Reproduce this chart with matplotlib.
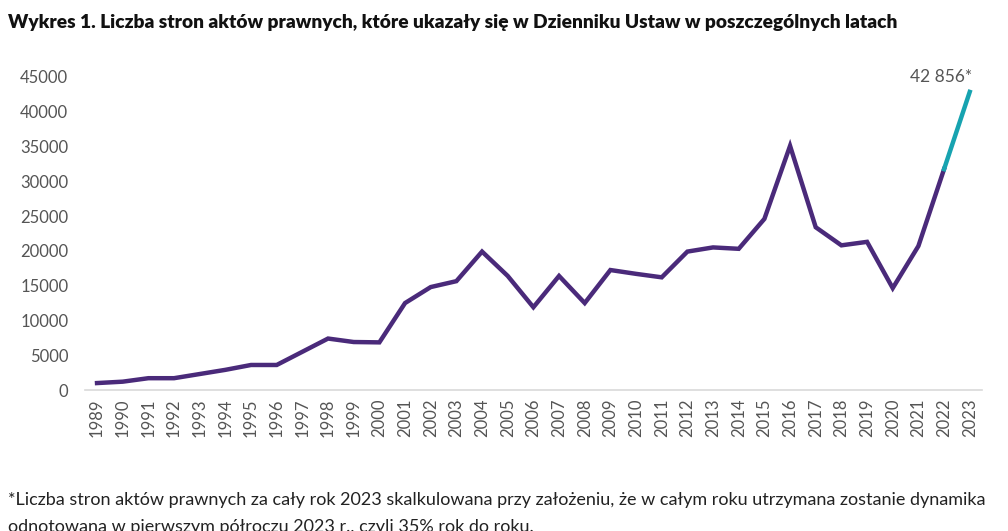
import matplotlib
matplotlib.use("Agg")
import matplotlib.pyplot as plt

# liczba stron aktów prawnych w Dzienniku Ustaw
lata = list(range(1989, 2024))
strony = [1000, 1200, 1700, 1700, 2300, 2900, 3600, 3600, 5500, 7400,
          6900, 6850, 12500, 14800, 15650, 19900, 16400, 11900, 16400, 12500,
          17250, 16700, 16200, 19900, 20500, 20300, 24600, 35100, 23400, 20800,
          21300, 14650, 20700, 31750, 42856]
y_ticks = [0, 5000, 10000, 15000, 20000, 25000, 30000, 35000, 40000, 45000]

FIOLET = '#4a2a7a'
TURKUS = '#17a3b0'
SZARY = '#555555'

plt.rcParams['font.family'] = ['Lato', 'DejaVu Sans']

fig = plt.figure(figsize=(10.08, 5.31), dpi=100)
ax = fig.add_axes([0.0843, 0.2655, 0.8897, 0.5895])

# linia do 2022 i prognoza 2023
ax.plot(lata[:-1], strony[:-1], color=FIOLET, linewidth=3.2, solid_joinstyle='miter')
ax.plot(lata[-2:], strony[-2:], color=TURKUS, linewidth=3.2)
ax.text(lata[-1] + 0.1, strony[-1] + 1000, '42 856*', ha='right', va='bottom',
        fontsize=12.5, color=SZARY, clip_on=False)

ax.set_xlim(lata[0] - 0.47, lata[-1] + 0.47)
ax.set_ylim(0, 45000)
ax.set_xticks(lata)
ax.set_xticklabels([str(r) for r in lata], rotation=90, fontsize=12, color=SZARY)
ax.set_yticks(y_ticks)
ax.set_yticklabels([str(v) for v in y_ticks], fontsize=12, color=SZARY)
ax.tick_params(length=0, pad=6)
ax.tick_params(axis='y', pad=12)

for s in ['top', 'right', 'left']:
    ax.spines[s].set_visible(False)
ax.spines['bottom'].set_color('#d9d9d9')
ax.spines['bottom'].set_linewidth(1.2)

fig.text(0.008, 0.957, 'Wykres 1. Liczba stron aktów prawnych, które ukazały się w Dzienniku Ustaw w poszczególnych latach',
         fontsize=13.8, fontweight='heavy', color='#111111', va='center')

fig.text(0.008, 0.058, '*Liczba stron aktów prawnych za cały rok 2023 skalkulowana przy założeniu, że w całym roku utrzymana zostanie dynamika',
         fontsize=13, color='#222222', va='center')
fig.text(0.008, 0.008, 'odnotowana w pierwszym półroczu 2023 r., czyli 35% rok do roku.',
         fontsize=13, color='#222222', va='center')

fig.savefig('out.png', dpi=100)
